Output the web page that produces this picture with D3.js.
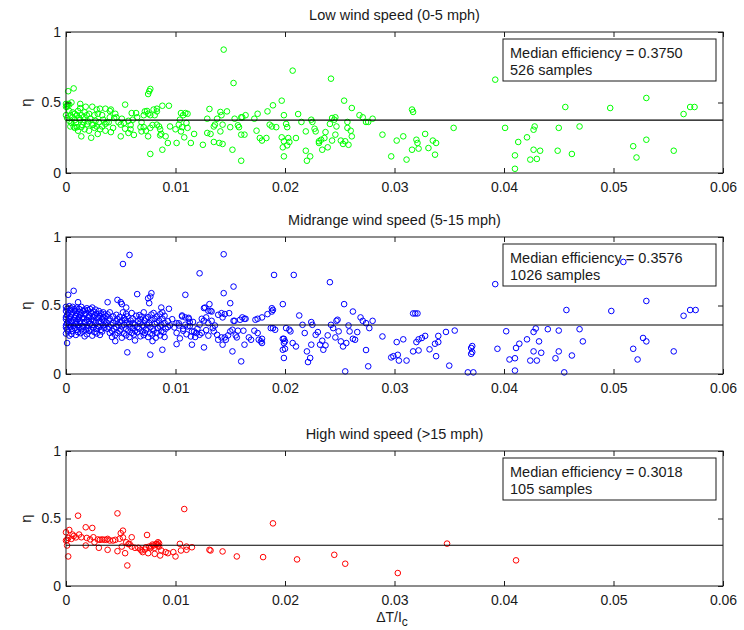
<!DOCTYPE html>
<html>
<head>
<meta charset="utf-8">
<script src="https://cdn.jsdelivr.net/npm/d3@7"></script>
<style>
  body { margin: 0; background: #fff; }
  svg text { font-family: "Liberation Sans", Arial, Helvetica, sans-serif; fill: #1a1a1a; }
</style>
</head>
<body>
<svg id="chart" width="744" height="630"></svg>
<script>
// Panel titles, medians and sample counts
const panelTitles = [
  "Low wind speed (0-5 mph)",
  "Midrange wind speed (5-15 mph)",
  "High wind speed (>15 mph)"
];
const medianEfficiency = [0.3750, 0.3576, 0.3018];
const sampleCounts = [526, 1026, 105];
const seriesColors = ["#00ff00", "#0000ff", "#ff0000"];

// Axis ticks
const xTicks = [0, 0.01, 0.02, 0.03, 0.04, 0.05, 0.06];
const xTickLabels = ["0", "0.01", "0.02", "0.03", "0.04", "0.05", "0.06"];
const yTicks = [0, 0.5, 1];
const yTickLabels = ["0", "0.5", "1"];

// Observations: [ΔT/Ic, η]
const lowWind = [
  [0.0002,0.58],[0.0007,0.60],[0.0001,0.48],[0.0002,0.49],[0.0001,0.47],[0.0000,0.47],[0.0000,0.49],[0.0003,0.485],
  [0.0005,0.50],[0.0000,0.41],[0.0001,0.39],[0.0004,0.41],[0.0006,0.395],[0.0008,0.42],[0.0010,0.41],[0.0013,0.49],
  [0.0013,0.46],[0.0014,0.41],[0.0016,0.395],[0.0018,0.47],[0.0019,0.41],[0.0022,0.385],[0.0024,0.47],[0.0005,0.355],
  [0.0007,0.33],[0.0010,0.325],[0.0014,0.325],[0.0015,0.34],[0.0008,0.32],[0.0014,0.26],[0.0023,0.25],[0.0024,0.34],
  [0.0025,0.343],[0.0012,0.39],[0.0013,0.378],[0.0020,0.366],[0.0009,0.355],[0.0017,0.31],[0.0026,0.41],
  [0.0003,0.44],[0.0006,0.43],[0.0011,0.44],[0.0017,0.43],[0.0021,0.42],[0.0003,0.37],[0.0008,0.375],[0.0016,0.36],
  [0.0019,0.345],[0.0021,0.30],[0.0011,0.30],[0.0004,0.33],
  [0.0028,0.45],[0.0031,0.456],[0.0029,0.42],[0.0033,0.41],[0.0036,0.456],[0.0040,0.44],[0.0041,0.45],[0.0027,0.37],
  [0.0030,0.36],[0.0034,0.378],[0.0037,0.36],[0.0028,0.33],[0.0031,0.31],[0.0029,0.277],[0.0036,0.348],[0.0039,0.36],
  [0.0041,0.29],[0.0043,0.32],[0.0045,0.42],[0.0046,0.395],[0.0048,0.36],[0.0050,0.343],[0.0050,0.26],[0.0051,0.385],
  [0.0053,0.355],[0.0054,0.485],[0.0054,0.314],[0.0044,0.39],[0.0040,0.395],[0.0036,0.30],[0.0033,0.33],[0.0026,0.32],
  [0.0057,0.37],[0.0059,0.34],[0.0060,0.425],[0.0061,0.378],[0.0057,0.284],[0.0062,0.27],[0.0064,0.425],[0.0065,0.395],
  [0.0059,0.31],[0.0069,0.36],[0.0071,0.41],[0.0072,0.437],[0.0074,0.44],[0.0075,0.56],[0.0077,0.596],[0.0076,0.58],
  [0.0075,0.42],[0.0077,0.41],[0.0073,0.30],[0.0075,0.26],[0.0077,0.135],[0.0077,0.32],[0.0079,0.34],[0.0081,0.41],
  [0.0083,0.456],[0.0083,0.343],[0.0085,0.33],[0.0086,0.31],[0.0088,0.477],[0.0083,0.437],[0.0080,0.45],[0.0071,0.325],
  [0.0068,0.325],[0.0069,0.295],[0.0087,0.277],[0.0088,0.165],[0.0086,0.267],[0.0091,0.26],
  [0.0094,0.477],[0.0093,0.213],[0.0095,0.33],[0.0100,0.31],[0.0101,0.213],[0.0104,0.378],[0.0105,0.425],[0.0106,0.325],
  [0.0105,0.295],[0.0103,0.343],[0.0107,0.41],[0.0109,0.425],[0.0111,0.42],[0.0110,0.355],[0.0108,0.253],[0.0111,0.32],
  [0.0114,0.213],[0.0117,0.277],
  [0.0125,0.20],[0.0129,0.385],[0.0131,0.454],[0.0129,0.284],[0.0132,0.277],[0.0135,0.33],[0.0136,0.343],[0.0135,0.22],
  [0.0138,0.385],[0.0140,0.213],[0.0141,0.433],[0.0142,0.41],[0.0143,0.343],[0.0144,0.875],[0.0143,0.206],[0.0141,0.295],
  [0.0147,0.437],
  [0.0150,0.325],[0.0152,0.165],[0.0153,0.638],[0.0154,0.385],[0.0157,0.338],[0.0158,0.325],[0.0160,0.395],[0.0160,0.087],
  [0.0161,0.395],[0.0163,0.272],[0.0164,0.41],[0.0160,0.272],[0.0172,0.385],[0.0175,0.42],[0.0174,0.30],[0.0177,0.248],
  [0.0179,0.23],[0.0183,0.248],[0.0184,0.437],[0.0186,0.343],[0.0189,0.48],[0.0188,0.33],[0.0192,0.325],[0.0197,0.513],
  [0.0197,0.253],[0.0199,0.225],[0.0198,0.182],[0.0199,0.118],[0.0199,0.41],[0.0201,0.348],[0.0202,0.325],[0.0203,0.248],
  [0.0202,0.196],[0.0204,0.22],[0.0207,0.726],[0.0210,0.248],
  [0.0212,0.418],[0.0215,0.362],[0.0219,0.295],[0.0219,0.158],[0.0220,0.087],[0.0223,0.118],[0.0224,0.378],[0.0225,0.362],
  [0.0227,0.314],[0.0228,0.295],[0.0231,0.225],[0.0231,0.213],[0.0233,0.236],[0.0234,0.165],[0.0236,0.248],[0.0237,0.29],
  [0.0239,0.182],
  [0.0242,0.669],[0.0241,0.348],[0.0243,0.39],[0.0245,0.378],[0.0246,0.395],[0.0247,0.33],[0.0246,0.272],[0.0243,0.23],
  [0.0251,0.23],[0.0253,0.206],[0.0254,0.513],[0.0255,0.225],[0.0257,0.362],[0.0257,0.32],[0.0260,0.30],[0.0261,0.461],
  [0.0261,0.26],[0.0258,0.20],[0.0268,0.41],[0.0271,0.395],[0.0274,0.362],[0.0276,0.362],[0.0280,0.385],[0.0289,0.272],
  [0.0297,0.118],
  [0.0302,0.23],[0.0308,0.26],[0.0311,0.095],[0.0316,0.165],[0.0316,0.45],[0.0317,0.433],[0.0320,0.236],[0.0321,0.213],
  [0.0322,0.173],[0.0328,0.277],[0.0331,0.177],[0.0335,0.23],[0.0338,0.213],[0.0337,0.13],[0.0354,0.32],[0.0392,0.662],
  [0.0401,0.32],[0.0410,0.125],[0.0410,0.03],[0.0413,0.22],[0.0421,0.253],[0.0427,0.165],[0.0424,0.095],[0.0427,0.307],
  [0.0428,0.33],[0.0430,0.10],[0.0433,0.158],[0.0450,0.32],[0.0449,0.158],[0.0456,0.468],[0.0462,0.135],[0.0469,0.33],
  [0.0497,0.461],[0.0518,0.19],[0.0521,0.11],[0.0530,0.532],[0.0530,0.236],[0.0555,0.158],[0.0564,0.418],[0.0570,0.468],
  [0.0574,0.468]
];

const midWind = [
  // dense cluster at small ΔT/Ic
  [0.0000,0.49],[0.0003,0.495],[0.0006,0.49],[0.0010,0.485],[0.0014,0.49],[0.0019,0.48],[0.0024,0.485],
  [0.0001,0.475],[0.0005,0.478],[0.0008,0.472],[0.0012,0.476],[0.0017,0.47],[0.0022,0.474],[0.0027,0.47],
  [0.0000,0.46],[0.0004,0.465],[0.0008,0.46],[0.0012,0.455],[0.0016,0.46],[0.0020,0.465],[0.0025,0.455],[0.0030,0.46],[0.0034,0.45],
  [0.0002,0.445],[0.0006,0.448],[0.0010,0.442],[0.0014,0.446],[0.0018,0.44],[0.0023,0.444],[0.0028,0.44],[0.0032,0.443],
  [0.0001,0.43],[0.0005,0.435],[0.0009,0.425],[0.0013,0.43],[0.0017,0.435],[0.0021,0.425],[0.0026,0.43],[0.0031,0.425],[0.0035,0.435],
  [0.0000,0.415],[0.0004,0.418],[0.0008,0.412],[0.0012,0.416],[0.0016,0.41],[0.0021,0.414],[0.0025,0.418],[0.0030,0.412],[0.0034,0.416],
  [0.0000,0.40],[0.0003,0.405],[0.0007,0.395],[0.0011,0.40],[0.0015,0.405],[0.0019,0.395],[0.0023,0.40],[0.0028,0.41],[0.0033,0.40],
  [0.0002,0.385],[0.0005,0.388],[0.0009,0.382],[0.0013,0.386],[0.0017,0.38],[0.0021,0.384],[0.0025,0.388],[0.0030,0.382],[0.0035,0.386],
  [0.0001,0.37],[0.0005,0.375],[0.0009,0.365],[0.0013,0.37],[0.0017,0.375],[0.0022,0.365],[0.0027,0.37],[0.0032,0.375],
  [0.0000,0.355],[0.0003,0.358],[0.0007,0.352],[0.0011,0.356],[0.0015,0.35],[0.0019,0.354],[0.0024,0.358],[0.0029,0.352],[0.0034,0.356],
  [0.0000,0.34],[0.0004,0.345],[0.0008,0.335],[0.0012,0.34],[0.0016,0.345],[0.0020,0.335],[0.0025,0.34],[0.0030,0.345],[0.0035,0.335],
  [0.0001,0.325],[0.0005,0.328],[0.0010,0.322],[0.0014,0.326],[0.0018,0.32],[0.0023,0.324],[0.0028,0.328],[0.0032,0.322],
  [0.0002,0.31],[0.0006,0.315],[0.0011,0.305],[0.0015,0.31],[0.0021,0.315],[0.0026,0.305],[0.0033,0.31],
  [0.0000,0.295],[0.0005,0.292],[0.0013,0.298],[0.0019,0.29],[0.0028,0.296],
  [0.0003,0.28],[0.0009,0.285],[0.0017,0.275],[0.0024,0.28],[0.0031,0.285],
  [0.0040,0.45],[0.0052,0.45],[0.0060,0.445],[0.0071,0.45],[0.0080,0.445],[0.0088,0.45],
  [0.0038,0.435],[0.0046,0.432],[0.0055,0.438],[0.0067,0.43],[0.0078,0.434],[0.0086,0.436],
  [0.0037,0.42],[0.0043,0.42],[0.0049,0.415],[0.0056,0.42],[0.0064,0.425],[0.0069,0.42],[0.0075,0.415],[0.0083,0.42],[0.0090,0.425],
  [0.0040,0.405],[0.0047,0.402],[0.0053,0.408],[0.0061,0.404],[0.0068,0.4],[0.0073,0.406],[0.0081,0.402],[0.0088,0.404],
  [0.0039,0.39],[0.0046,0.385],[0.0051,0.39],[0.0054,0.395],[0.0059,0.39],[0.0066,0.385],[0.0072,0.39],[0.0078,0.395],[0.0085,0.39],[0.0093,0.385],
  [0.0037,0.375],[0.0043,0.372],[0.0049,0.378],[0.0056,0.374],[0.0061,0.37],[0.0068,0.376],[0.0076,0.372],[0.0083,0.376],[0.0090,0.372],
  [0.0036,0.36],[0.0041,0.36],[0.0048,0.355],[0.0053,0.36],[0.0058,0.365],[0.0063,0.36],[0.0070,0.355],[0.0074,0.36],[0.0081,0.365],[0.0087,0.36],[0.0095,0.355],
  [0.0039,0.345],[0.0046,0.342],[0.0051,0.348],[0.0058,0.344],[0.0065,0.34],[0.0071,0.346],[0.0077,0.342],[0.0086,0.346],[0.0093,0.342],
  [0.0038,0.33],[0.0044,0.33],[0.0050,0.325],[0.0055,0.33],[0.0061,0.335],[0.0067,0.33],[0.0073,0.325],[0.0079,0.33],[0.0084,0.335],[0.0091,0.33],
  [0.0042,0.315],[0.0049,0.312],[0.0057,0.318],[0.0063,0.314],[0.0070,0.31],[0.0080,0.316],[0.0087,0.312],
  [0.0040,0.30],[0.0047,0.30],[0.0053,0.295],[0.0060,0.30],[0.0065,0.305],[0.0072,0.30],[0.0077,0.295],[0.0083,0.30],[0.0089,0.305],
  [0.0045,0.285],[0.0055,0.282],[0.0062,0.288],[0.0071,0.284],[0.0079,0.288],[0.0086,0.282],
  [0.0042,0.27],[0.0051,0.265],[0.0058,0.27],[0.0068,0.275],[0.0075,0.27],[0.0082,0.265],[0.0090,0.27],
  [0.0045,0.24],[0.0063,0.245],[0.0079,0.24],
  [0.0097,0.40],[0.0099,0.34],[0.0101,0.30],[0.0103,0.37],[0.0104,0.26],[0.0106,0.42],[0.0107,0.33],[0.0109,0.36],
  [0.0110,0.29],[0.0112,0.41],[0.0113,0.35],[0.0115,0.31],[0.0116,0.38],[0.0118,0.27],[0.0120,0.33],[0.0122,0.36],
  [0.0124,0.30],[0.0126,0.39],[0.0128,0.32],[0.0130,0.28],
  // scattered observations
  [0.0101,0.371],[0.0103,0.354],[0.0106,0.427],[0.0107,0.316],[0.0109,0.413],[0.0111,0.347],[0.0112,0.403],[0.0113,0.379],
  [0.0114,0.274],[0.0115,0.214],[0.0117,0.311],[0.0119,0.299],[0.0122,0.286],[0.0124,0.403],[0.0126,0.481],[0.0128,0.413],
  [0.0130,0.371],[0.0132,0.461],[0.0133,0.388],[0.0134,0.335],[0.0135,0.311],[0.0136,0.354],[0.0138,0.286],[0.0139,0.25],
  [0.0142,0.267],[0.0143,0.413],[0.0145,0.267],[0.0146,0.25],[0.0148,0.282],[0.0143,0.214],
  [0.0150,0.311],[0.0152,0.323],[0.0154,0.388],[0.0155,0.282],[0.0157,0.316],[0.0159,0.396],[0.0161,0.413],[0.0163,0.403],
  [0.0164,0.403],[0.0167,0.267],[0.0172,0.316],[0.0173,0.396],[0.0176,0.25],[0.0179,0.257],
  [0.0184,0.437],[0.0187,0.335],[0.0189,0.335],[0.0191,0.323],[0.0198,0.257],[0.0200,0.238],[0.0201,0.335],[0.0204,0.323],
  [0.0205,0.311],[0.0207,0.226],[0.0210,0.201],
  [0.0213,0.427],[0.0216,0.359],[0.0218,0.299],[0.0224,0.379],[0.0225,0.359],[0.0228,0.286],[0.0230,0.306],[0.0232,0.214],
  [0.0234,0.243],[0.0235,0.177],[0.0237,0.209],[0.0239,0.282],
  [0.0242,0.359],[0.0244,0.335],[0.0246,0.267],[0.0247,0.388],[0.0249,0.311],[0.0251,0.238],[0.0253,0.201],[0.0256,0.226],
  [0.0258,0.354],[0.0259,0.311],[0.0262,0.257],[0.0264,0.25],[0.0266,0.306],[0.0269,0.413],[0.0271,0.388],[0.0274,0.371],
  [0.0277,0.335],[0.0280,0.388],[0.0289,0.274],[0.0297,0.121],
  [0.0002,0.578],[0.0007,0.607],[0.0011,0.524],[0.0052,0.803],[0.0058,0.869],[0.0065,0.583],[0.0075,0.553],[0.0076,0.517],
  [0.0078,0.59],[0.0077,0.565],[0.0038,0.524],[0.0047,0.541],[0.0050,0.524],[0.0051,0.51],[0.0055,0.485],[0.0056,0.158],
  [0.0077,0.141],[0.0088,0.177],[0.0087,0.485],[0.0094,0.476],[0.0109,0.578],[0.0122,0.735],[0.0144,0.874],[0.0144,0.59],
  [0.0153,0.638],[0.0150,0.517],[0.0131,0.51],[0.0127,0.485],[0.0130,0.461],[0.0133,0.456],[0.0139,0.432],[0.0142,0.444],
  [0.0145,0.437],[0.0149,0.444],[0.0190,0.723],[0.0208,0.723],[0.0198,0.51],[0.0188,0.48],[0.0189,0.468],[0.0188,0.456],
  [0.0175,0.403],[0.0179,0.413],[0.0241,0.67],[0.0254,0.51],[0.0262,0.456],[0.0248,0.396],[0.0276,0.056],[0.0255,0.019],
  [0.0274,0.175],
  [0.0101,0.218],[0.0126,0.194],[0.0152,0.165],[0.0160,0.092],[0.0163,0.214],[0.0156,0.267],[0.0162,0.316],[0.0153,0.388],
  [0.0169,0.25],[0.0175,0.299],[0.0178,0.238],[0.0179,0.226],[0.0199,0.257],[0.0199,0.226],[0.0198,0.177],[0.0200,0.184],
  [0.0199,0.117],[0.0220,0.165],[0.0224,0.214],[0.0223,0.117],[0.0221,0.087],[0.0001,0.226],
  [0.0299,0.13],[0.0303,0.14],[0.0304,0.098],[0.0311,0.098],[0.0302,0.233],[0.0308,0.253],[0.0317,0.165],[0.0322,0.172],
  [0.0320,0.233],[0.0322,0.253],[0.0325,0.263],[0.0328,0.278],[0.0317,0.442],[0.0319,0.442],[0.0321,0.442],[0.0332,0.18],
  [0.0337,0.221],[0.0338,0.13],[0.0340,0.233],[0.0340,0.278],[0.0347,0.307],[0.0355,0.317],[0.0350,0.061],[0.0367,0.012],
  [0.0372,0.012],[0.0370,0.19],[0.0371,0.204],[0.0370,0.147],[0.0371,0.16],[0.0392,0.656],[0.0394,0.184],[0.0402,0.312],
  [0.0405,0.106],[0.0410,0.115],[0.0411,0.19],[0.0414,0.221],[0.0410,0.025],[0.0421,0.253],[0.0427,0.307],[0.0429,0.332],
  [0.0432,0.238],[0.0424,0.098],[0.0430,0.098],[0.0427,0.165],[0.0434,0.155],[0.0440,0.327],[0.0450,0.317],[0.0447,0.115],
  [0.0450,0.165],[0.0455,0.012],[0.0462,0.135],[0.0457,0.467],[0.0469,0.327],[0.0472,0.238],[0.0498,0.46],[0.0509,0.818],
  [0.0518,0.184],[0.0522,0.106],[0.0527,0.263],[0.0530,0.238],[0.0530,0.533],[0.0555,0.165],[0.0564,0.425],[0.0570,0.467],
  [0.0575,0.467]
];

const highWind = [
  [0.0011,0.521],[0.0047,0.538],[0.0108,0.57],[0.0189,0.464],[0.0000,0.398],[0.0003,0.415],[0.0001,0.342],[0.0000,0.337],
  [0.0002,0.356],[0.0006,0.381],[0.0005,0.349],[0.0001,0.30],[0.0002,0.219],[0.0012,0.381],[0.0014,0.361],[0.0018,0.435],
  [0.0019,0.356],[0.0018,0.30],[0.0024,0.43],[0.0025,0.361],[0.0026,0.324],[0.0030,0.283],[0.0031,0.342],[0.0035,0.342],
  [0.0037,0.342],[0.0038,0.349],[0.0040,0.337],[0.0043,0.337],[0.0045,0.342],[0.0038,0.268],[0.0047,0.258],[0.0050,0.391],
  [0.0052,0.41],[0.0051,0.292],[0.0054,0.243],[0.0055,0.324],[0.0056,0.152],[0.0060,0.361],[0.0058,0.312],[0.0060,0.292],
  [0.0063,0.283],[0.0066,0.283],[0.0069,0.263],[0.0070,0.251],[0.0073,0.287],[0.0074,0.378],[0.0075,0.243],[0.0076,0.292],
  [0.0078,0.292],[0.0079,0.307],[0.0081,0.283],[0.0081,0.238],[0.0083,0.312],[0.0084,0.324],[0.0085,0.292],[0.0086,0.226],
  [0.0087,0.263],[0.0091,0.251],[0.0093,0.243],[0.0098,0.251],[0.0100,0.219],[0.0104,0.312],[0.0105,0.263],[0.0110,0.292],
  [0.0110,0.268],[0.0115,0.287],[0.0131,0.268],[0.0132,0.263],[0.0143,0.256],[0.0156,0.219],[0.0180,0.214],[0.0211,0.197],
  [0.0245,0.231],[0.0255,0.165],[0.0303,0.096],[0.0348,0.314],[0.0411,0.19],
  [0.0072,0.27],[0.0080,0.30],[0.0082,0.31],[0.0084,0.30],[0.0085,0.315],[0.0068,0.27],[0.0077,0.28],[0.0029,0.345],
  [0.0033,0.345],[0.0009,0.36],[0.0007,0.37],[0.0022,0.345],[0.0049,0.35],[0.0052,0.36],[0.0057,0.31]
];

const seriesData = [lowWind, midWind, highWind];

// Plot frames (pixel layout)
const plotLeft = 66, plotWidth = 657;
const frames = [
  { top: 32, height: 141 },
  { top: 237, height: 137 },
  { top: 451, height: 135 }
];

const svg = d3.select("#chart");
svg.append("rect").attr("width", 744).attr("height", 630).attr("fill", "#fff");

const x = d3.scaleLinear().domain([0, 0.06]).range([0, plotWidth]);
const fmtMedian = d3.format(".4f");

frames.forEach((f, i) => {
  const y = d3.scaleLinear().domain([0, 1]).range([f.height, 0]);
  const g = svg.append("g").attr("transform", `translate(${plotLeft},${f.top})`);

  // legend box
  const lg = g.append("g").attr("transform", `translate(${437},${7})`);
  lg.append("rect").attr("width", 213).attr("height", 42)
    .attr("fill", "#fff").attr("stroke", "#1a1a1a").attr("stroke-width", 1);
  lg.append("text").attr("x", 7).attr("y", 19).style("font-size", "14.5px")
    .text(`Median efficiency = ${fmtMedian(medianEfficiency[i])}`);
  lg.append("text").attr("x", 7).attr("y", 36).style("font-size", "14.5px")
    .text(`${sampleCounts[i]} samples`);

  // scatter
  g.append("g").selectAll("circle").data(seriesData[i]).join("circle")
    .attr("cx", d => x(d[0]))
    .attr("cy", d => y(d[1]))
    .attr("r", 2.8)
    .attr("fill", "none")
    .attr("stroke", seriesColors[i])
    .attr("stroke-width", 1);

  // median line
  g.append("line")
    .attr("x1", x(0)).attr("x2", x(0.06))
    .attr("y1", y(medianEfficiency[i])).attr("y2", y(medianEfficiency[i]))
    .attr("stroke", "#000").attr("stroke-width", 1.1);

  // axes with inward ticks on all four sides
  const styleAxis = sel => {
    sel.select(".domain").remove();
    sel.selectAll(".tick line").attr("stroke", "#1a1a1a");
    sel.selectAll("text").style("font-size", "14px")
      .style("font-family", "\"Liberation Sans\", Arial, sans-serif").attr("fill", "#1a1a1a");
  };
  g.append("g").attr("transform", `translate(0,${f.height})`)
    .call(d3.axisBottom(x).tickValues(xTicks).tickFormat((d, j) => xTickLabels[j])
      .tickSizeInner(-5).tickSizeOuter(0).tickPadding(9))
    .call(styleAxis);
  g.append("g")
    .call(d3.axisTop(x).tickValues(xTicks).tickFormat("").tickSizeInner(-5).tickSizeOuter(0))
    .call(styleAxis);
  g.append("g")
    .call(d3.axisLeft(y).tickValues(yTicks).tickFormat((d, j) => yTickLabels[j])
      .tickSizeInner(-5).tickSizeOuter(0).tickPadding(5))
    .call(styleAxis);
  g.append("g").attr("transform", `translate(${plotWidth},0)`)
    .call(d3.axisRight(y).tickValues(yTicks).tickFormat("").tickSizeInner(-5).tickSizeOuter(0))
    .call(styleAxis);

  // frame
  g.append("rect").attr("x", 0).attr("y", 0).attr("width", plotWidth).attr("height", f.height)
    .attr("fill", "none").attr("stroke", "#1a1a1a").attr("stroke-width", 1);

  // title
  g.append("text").attr("x", plotWidth / 2).attr("y", -12)
    .attr("text-anchor", "middle").style("font-size", "14.5px")
    .text(panelTitles[i]);

  // y label
  g.append("text")
    .attr("transform", `translate(${-41},${f.height / 2}) rotate(-90)`)
    .attr("text-anchor", "middle").attr("dominant-baseline", "central")
    .style("font-size", "15px")
    .text("η");
});

// x label with subscript
const xl = svg.append("text").attr("x", 392).attr("y", 622)
  .attr("text-anchor", "middle").style("font-size", "14px");
xl.append("tspan").text("ΔT/I");
xl.append("tspan").attr("dy", 4).style("font-size", "12px").text("c");
</script>
</body>
</html>
